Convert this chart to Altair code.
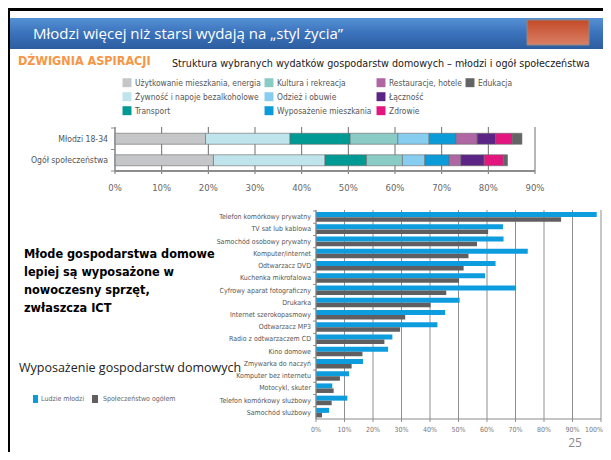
import altair as alt
import pandas as pd

# ---------------- data ----------------
segments = ["Użytkowanie mieszkania, energia", "Żywność i napoje bezalkoholowe", "Transport",
            "Kultura i rekreacja", "Odzież i obuwie", "Wyposażenie mieszkania",
            "Restauracje, hotele", "Łączność", "Zdrowie", "Edukacja"]
seg_colors = ["#c5c6c8", "#bfe4eb", "#009a94", "#8bcbc5", "#87cdef", "#0b9bd9",
              "#b066a3", "#5b2585", "#e3157f", "#646467"]
groups = ["Młodzi 18-34", "Ogół społeczeństwa"]
young_share = [19.4, 18.1, 12.9, 10.2, 6.7, 5.8, 4.5, 4.0, 3.5, 2.1]
all_share = [21.1, 23.9, 8.9, 7.7, 4.8, 5.2, 2.5, 5.0, 4.1, 0.9]
top_ticks = [0, 10, 20, 30, 40, 50, 60, 70, 80, 90]

items = ["Telefon komórkowy prywatny", "TV sat lub kablowa", "Samochód osobowy prywatny",
         "Komputer/internet", "Odtwarzacz DVD", "Kuchenka mikrofalowa",
         "Cyfrowy aparat fotograficzny", "Drukarka", "Internet szerokopasmowy",
         "Odtwarzacz MP3", "Radio z odtwarzaczem CD", "Kino domowe", "Zmywarka do naczyń",
         "Komputer bez internetu", "Motocykl, skuter", "Telefon komórkowy służbowy",
         "Samochód służbowy"]
young_pct = [98.5, 65.6, 65.8, 74.3, 63.0, 59.3, 70.2, 50.4, 45.3, 42.6, 26.8, 25.3, 16.5, 11.6, 5.7, 11.0, 4.6]
all_pct = [86.0, 60.4, 56.5, 53.5, 51.8, 50.2, 45.7, 40.2, 31.3, 29.5, 24.0, 16.3, 12.5, 8.4, 6.2, 5.5, 2.1]
bottom_ticks = [0, 10, 20, 30, 40, 50, 60, 70, 80, 90, 100]

title_text = "Młodzi więcej niż starsi wydają na „styl życia”"
lever_text = "DŹWIGNIA ASPIRACJI"
subtitle_text = "Struktura wybranych wydatków gospodarstw domowych – młodzi i ogół społeczeństwa"
left_lines = ["Młode gospodarstwa domowe", "lepiej są wyposażone w", "nowoczesny sprzęt,", "zwłaszcza ICT"]
left_caption = "Wyposażenie gospodarstw domowych"
legend2 = ["Ludzie młodzi", "Społeczeństwo ogółem"]
page_no = "25"

# ---------------- tables ----------------
df_top = pd.DataFrame(
    [{"group": groups[0], "segment": s, "value": v, "order": i} for i, (s, v) in enumerate(zip(segments, young_share))]
    + [{"group": groups[1], "segment": s, "value": v, "order": i} for i, (s, v) in enumerate(zip(segments, all_share))]
)
df_tt = pd.DataFrame({"t": top_ticks})
df_bt = pd.DataFrame({"t": bottom_ticks})
df_items = pd.DataFrame({"item": items, "young": young_pct, "all": all_pct})
df_leg = pd.DataFrame({"name": segments, "col": [i // 3 for i in range(len(segments))],
                       "row": [i % 3 for i in range(len(segments))]})
one = pd.DataFrame({"a": [0]})

NARROW = "Liberation Sans Narrow, DejaVu Sans Condensed, Arial Narrow, sans-serif"

# ---------------- scales (pixel ranges in the single plot area) ----------------
xs_top = alt.Scale(domain=[0, 90], range=[107, 527], nice=False, zero=False)
ys_top = alt.Scale(domain=groups, range=[120, 163], paddingInner=0, paddingOuter=0)
xs_bot = alt.Scale(domain=[0, 100], range=[308, 593], nice=False, zero=False)
ys_bot = alt.Scale(domain=items, range=[203, 411], paddingInner=0, paddingOuter=0)
col_scale = alt.Scale(domain=segments, range=seg_colors)

layers = []

# frame and title bar
layers.append(alt.Chart(one).mark_rect(color="#000000").encode(
    x=alt.value(0), x2=alt.value(595), y=alt.value(0), y2=alt.value(3)))
layers.append(alt.Chart(one).mark_rect(color="#000000").encode(
    x=alt.value(0), x2=alt.value(2), y=alt.value(0), y2=alt.value(444)))
layers.append(alt.Chart(one).mark_rect(
    color=alt.LinearGradient(gradient="linear", x1=0, x2=0, y1=0, y2=1,
                             stops=[alt.GradientStop(color="#5590d4", offset=0),
                                    alt.GradientStop(color="#3a72bb", offset=0.5),
                                    alt.GradientStop(color="#2c5d9f", offset=1)])).encode(
    x=alt.value(2), x2=alt.value(595), y=alt.value(10), y2=alt.value(41)))
layers.append(alt.Chart(one).mark_rect(
    stroke="#8a8a8a", strokeWidth=1,
    color=alt.LinearGradient(gradient="linear", x1=0, x2=0, y1=0, y2=1,
                             stops=[alt.GradientStop(color="#c44a28", offset=0),
                                    alt.GradientStop(color="#d98066", offset=1)])).encode(
    x=alt.value(519), x2=alt.value(581), y=alt.value(12), y2=alt.value(37)))
layers.append(alt.Chart(one).mark_text(text=title_text, font="Open Sans", fontSize=15, color="white",
                                       align="left", baseline="middle").encode(
    x=alt.value(25), y=alt.value(26)))
layers.append(alt.Chart(one).mark_text(text=lever_text, font=NARROW, fontSize=12.5, fontWeight="bold",
                                       color="#f79646", align="left", baseline="middle").encode(
    x=alt.value(10), y=alt.value(53)))
layers.append(alt.Chart(one).mark_text(text=subtitle_text, font=NARROW, fontSize=10.7, color="#1a1a1a",
                                       align="left", baseline="middle").encode(
    x=alt.value(164), y=alt.value(56)))

# top legend (4 columns)
leg_x = [115, 257, 369, 458]
ys_leg = alt.Scale(domain=[0, 2], range=[74.7, 102.7])
for c, cx in enumerate(leg_x):
    base = alt.Chart(df_leg).transform_filter(alt.datum.col == c)
    layers.append(base.mark_square(size=80, opacity=1).encode(
        x=alt.value(cx + 4), y=alt.Y("row:Q", scale=ys_leg, axis=None),
        color=alt.Color("name:N", scale=col_scale, legend=None)))
    layers.append(base.mark_text(font=NARROW, fontSize=8.4, color="#555555", align="left",
                                 baseline="middle").encode(
        x=alt.value(cx + 12), y=alt.Y("row:Q", scale=ys_leg, axis=None), text="name:N"))

# top chart: grid, bars, axes
layers.append(alt.Chart(df_tt).mark_rule(color="#6e6e6e", strokeWidth=1).encode(
    x=alt.X("t:Q", scale=xs_top, axis=None), y=alt.value(119), y2=alt.value(166)))
layers.append(alt.Chart(df_top).mark_bar(height=11, stroke="#6a6a6a", strokeWidth=0.6).encode(
    x=alt.X("value:Q", stack="zero", scale=xs_top, axis=None),
    y=alt.Y("group:N", scale=ys_top, axis=None),
    color=alt.Color("segment:N", scale=col_scale, legend=None),
    order=alt.Order("order:Q")))
layers.append(alt.Chart(one).mark_rule(color="#8c8c8c", strokeWidth=2).encode(
    x=alt.value(107), x2=alt.value(527), y=alt.value(163)))
layers.append(alt.Chart(one).mark_rule(color="#8c8c8c", strokeWidth=1).encode(
    x=alt.value(107), y=alt.value(119), y2=alt.value(164)))
layers.append(alt.Chart(pd.DataFrame({"group": groups})).mark_rule(color="#8c8c8c", strokeWidth=1).encode(
    y=alt.Y("group:N", scale=ys_top, bandPosition=0, axis=None), x=alt.value(103), x2=alt.value(107)))
layers.append(alt.Chart(one).mark_rule(color="#8c8c8c", strokeWidth=1).encode(
    y=alt.value(163), x=alt.value(103), x2=alt.value(107)))
layers.append(alt.Chart(df_tt).transform_calculate(lab="datum.t + '%'").mark_text(
    font=NARROW, fontSize=9.5, color="#666666", baseline="middle").encode(
    x=alt.X("t:Q", scale=xs_top, axis=None), y=alt.value(180), text="lab:N"))
layers.append(alt.Chart(pd.DataFrame({"group": groups})).mark_text(
    font=NARROW, fontSize=8.6, color="#555555", align="right", baseline="middle").encode(
    y=alt.Y("group:N", scale=ys_top, axis=None), x=alt.value(100), text="group:N"))

# left text
layers.append(alt.Chart(one).mark_text(text=left_lines, font=NARROW, fontSize=12.6, fontWeight="bold",
                                       color="#000000", align="left", baseline="top", lineHeight=18).encode(
    x=alt.value(16), y=alt.value(240)))
layers.append(alt.Chart(one).mark_text(text=left_caption, font="Open Sans", fontSize=12.5, color="#222222",
                                       align="left", baseline="middle").encode(
    x=alt.value(11), y=alt.value(360)))
layers.append(alt.Chart(one).mark_rect(color="#0b9bd9").encode(
    x=alt.value(25), x2=alt.value(30), y=alt.value(387), y2=alt.value(395)))
layers.append(alt.Chart(one).mark_text(text=legend2[0], font=NARROW, fontSize=7, color="#666666",
                                       align="left", baseline="middle").encode(x=alt.value(33), y=alt.value(391)))
layers.append(alt.Chart(one).mark_rect(color="#606060").encode(
    x=alt.value(84), x2=alt.value(90), y=alt.value(387), y2=alt.value(395)))
layers.append(alt.Chart(one).mark_text(text=legend2[1], font=NARROW, fontSize=7, color="#666666",
                                       align="left", baseline="middle").encode(x=alt.value(95), y=alt.value(391)))

# bottom chart
layers.append(alt.Chart(df_bt).mark_rule(color="#8f8f8f", strokeWidth=1).encode(
    x=alt.X("t:Q", scale=xs_bot, axis=None), y=alt.value(202), y2=alt.value(414)))
layers.append(alt.Chart(df_items).mark_bar(height=5, yOffset=-2.5, color="#0d9ddf").encode(
    x=alt.X("young:Q", scale=xs_bot, axis=None), y=alt.Y("item:N", scale=ys_bot, axis=None)))
layers.append(alt.Chart(df_items).mark_bar(height=4.5, yOffset=2.3, color="#5f5f61").encode(
    x=alt.X("all:Q", scale=xs_bot, axis=None), y=alt.Y("item:N", scale=ys_bot, axis=None)))
layers.append(alt.Chart(one).mark_rule(color="#8c8c8c", strokeWidth=1.2).encode(
    x=alt.value(308), x2=alt.value(593), y=alt.value(411)))
layers.append(alt.Chart(one).mark_rule(color="#8c8c8c", strokeWidth=1).encode(
    x=alt.value(308), y=alt.value(202), y2=alt.value(411)))
layers.append(alt.Chart(df_items).mark_rule(color="#8c8c8c", strokeWidth=1).encode(
    y=alt.Y("item:N", scale=ys_bot, bandPosition=0, axis=None), x=alt.value(305), x2=alt.value(308)))
layers.append(alt.Chart(df_items).mark_text(font=NARROW, fontSize=7, color="#555555", align="right",
                                            baseline="middle").encode(
    y=alt.Y("item:N", scale=ys_bot, axis=None), x=alt.value(303), text="item:N"))
layers.append(alt.Chart(df_bt).transform_filter(alt.datum.t < 100).transform_calculate(lab="datum.t + '%'").mark_text(
    font=NARROW, fontSize=7, color="#777777", baseline="middle").encode(
    x=alt.X("t:Q", scale=xs_bot, axis=None), y=alt.value(422), text="lab:N"))
layers.append(alt.Chart(df_bt).transform_filter(alt.datum.t == 100).transform_calculate(lab="datum.t + '%'").mark_text(
    font=NARROW, fontSize=7, color="#777777", baseline="middle", align="right", dx=2).encode(
    x=alt.X("t:Q", scale=xs_bot, axis=None), y=alt.value(422), text="lab:N"))
layers.append(alt.Chart(one).mark_text(text=page_no, font="Open Sans", fontSize=12, color="#8a8a8a",
                                       align="center", baseline="middle").encode(
    x=alt.value(567), y=alt.value(435)))

chart = alt.layer(*layers).resolve_scale(x="independent", y="independent", color="independent").properties(
    width=595, height=444, padding=0, autosize="none", background="white"
).configure_view(stroke=None)

chart.save("out.html", embed_options={"renderer": "svg", "actions": False})
